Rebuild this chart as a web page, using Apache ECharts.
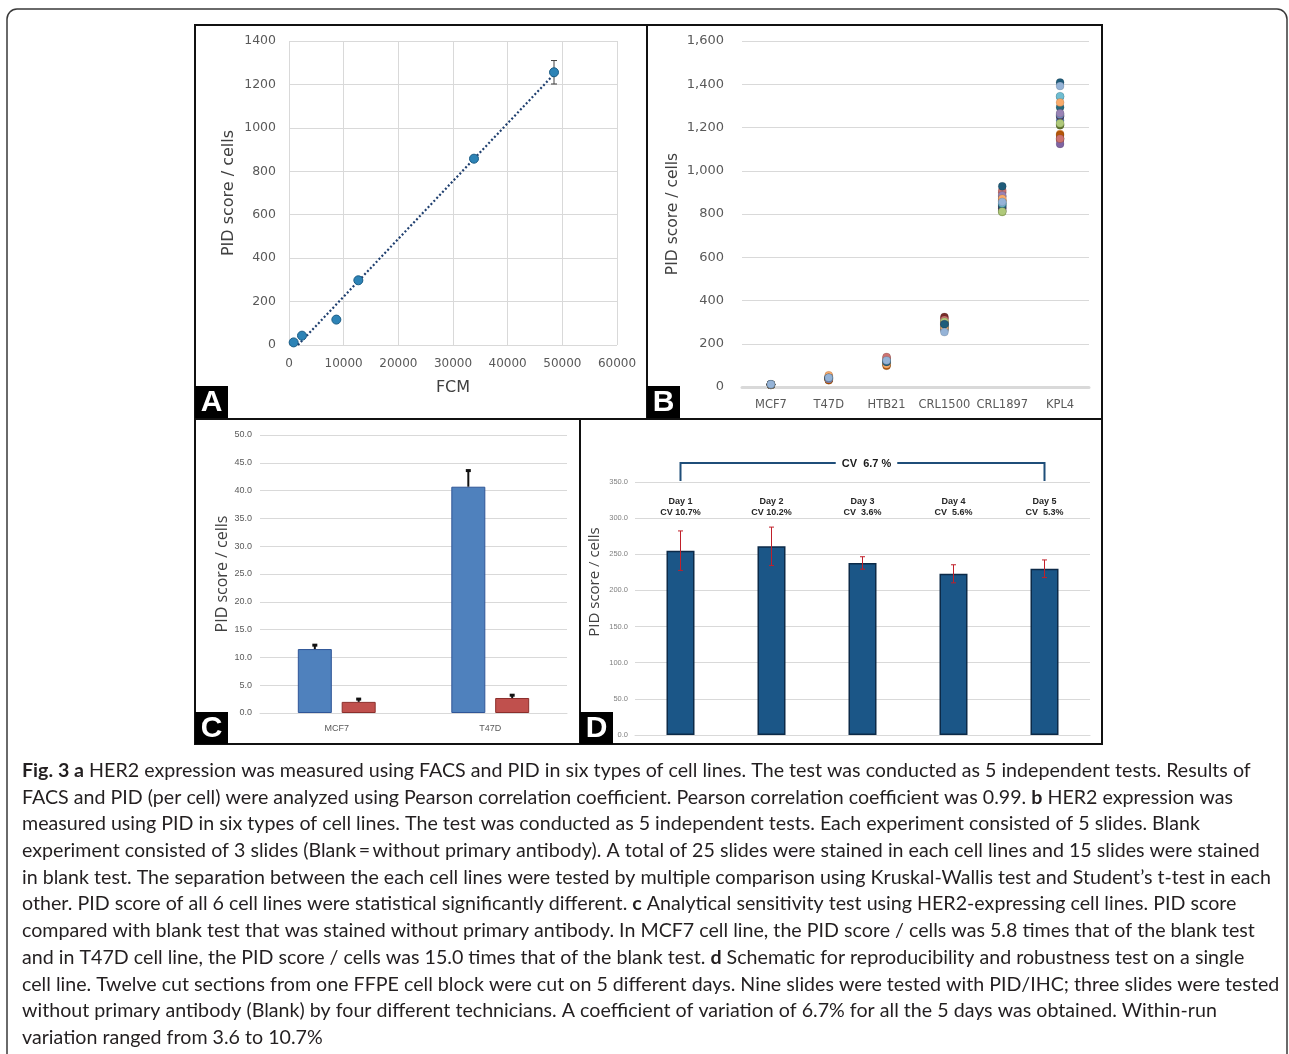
<!DOCTYPE html>
<html><head><meta charset="utf-8">
<script src="https://cdn.jsdelivr.net/npm/echarts@6/dist/echarts.min.js"></script>
<style>html,body{margin:0;padding:0;background:#fff}#c{width:1289px;height:1054px}</style>
</head><body><div id="c"></div>
<script>
// ---------- Panel A: FCM vs PID ----------
const fcmX = [854, 2378, 8659, 12683, 33841, 48476];
const pidA = [12, 43, 117, 298, 858, 1256];
const errA = [3, 8, 4, 12, 12, 54];
const xTicksA = [0, 60000, 10000];
const yTicksA = [0, 1400, 200];

// ---------- Panel B: PID per cell line (one series per slide) ----------
const cellLines = ['MCF7', 'T47D', 'HTB21', 'CRL1500', 'CRL1897', 'KPL4'];
const slideColors = ['#4F81BD','#C0504D','#9BBB59','#8064A2','#4BACC6','#F79646','#2C4D75','#772C2A','#5F7530','#4D3B62','#276A7C','#B65708','#729ACA','#CD7371','#AFC97A','#9983B5','#6FBDD1','#F9AB6B','#1F5C7A','#95B3D7'];
const slide01 = [12, 40, 115, 285, 850, 1232];
const slide02 = [11, 44, 135, 318, 900, 1143];
const slide03 = [10, 36, 108, 300, 809, 1215];
const slide04 = [11, 38, 112, 292, 825, 1124];
const slide05 = [12, 42, 118, 283, 845, 1342];
const slide06 = [11, 33, 102, 272, 865, 1170];
const slide07 = [10, 39, 110, 288, 835, 1255];
const slide08 = [12, 41, 125, 324, 880, 1150];
const slide09 = [11, 37, 106, 298, 815, 1210];
const slide10 = [10, 36, 111, 295, 828, 1252];
const slide11 = [12, 45, 113, 281, 840, 1294];
const slide12 = [10, 31, 98, 268, 862, 1165];
const slide13 = [13, 46, 120, 262, 856, 1260];
const slide14 = [12, 50, 139, 310, 909, 1148];
const slide15 = [11, 38, 110, 302, 812, 1220];
const slide16 = [11, 37, 114, 290, 886, 1266];
const slide17 = [12, 47, 120, 278, 850, 1345];
const slide18 = [10, 54, 105, 276, 871, 1316];
const slide19 = [12, 43, 116, 290, 928, 1408];
const slide20 = [13, 43, 123, 254, 856, 1392];
const slides = [slide01,slide02,slide03,slide04,slide05,slide06,slide07,slide08,slide09,slide10,slide11,slide12,slide13,slide14,slide15,slide16,slide17,slide18,slide19,slide20];
const yTicksB = [0, 1600, 200];

// ---------- Panel C: sensitivity ----------
const sensCats = ['MCF7', 'T47D'];
const pidC = [11.5, 40.7];
const pidCErr = [0.7, 2.9];
const blankC = [2.0, 2.7];
const blankCErr = [0.5, 0.5];
const yTicksC = [0, 50, 5];

// ---------- Panel D: reproducibility ----------
const days = ['Day 1', 'Day 2', 'Day 3', 'Day 4', 'Day 5'];
const dayCV = ['CV 10.7%', 'CV 10.2%', 'CV  3.6%', 'CV  5.6%', 'CV  5.3%'];
const pidD = [255, 261, 238, 223, 230];
const sdD = [27.3, 26.6, 8.6, 12.5, 12.2];
const totalCV = 'CV  6.7 %';
const yTicksD = [0, 350, 50];

// ---------- Caption ----------
const captionLines = [
  '{b|Fig. 3 a} HER2 expression was measured using FACS and PID in six types of cell lines. The test was conducted as 5 independent tests. Results of',
  'FACS and PID (per cell) were analyzed using Pearson correlation coefficient. Pearson correlation coefficient was 0.99. {b|b} HER2 expression was',
  'measured using PID in six types of cell lines. The test was conducted as 5 independent tests. Each experiment consisted of 5 slides. Blank',
  'experiment consisted of 3 slides (Blank\u2009=\u2009without primary antibody). A total of 25 slides were stained in each cell lines and 15 slides were stained',
  'in blank test. The separation between the each cell lines were tested by multiple comparison using Kruskal-Wallis test and Student\u2019s t-test in each',
  'other. PID score of all 6 cell lines were statistical significantly different. {b|c} Analytical sensitivity test using HER2-expressing cell lines. PID score',
  'compared with blank test that was stained without primary antibody. In MCF7 cell line, the PID score / cells was 5.8 times that of the blank test',
  'and in T47D cell line, the PID score / cells was 15.0 times that of the blank test. {b|d} Schematic for reproducibility and robustness test on a single',
  'cell line. Twelve cut sections from one FFPE cell block were cut on 5 different days. Nine slides were tested with PID/IHC; three slides were tested',
  'without primary antibody (Blank) by four different technicians. A coefficient of variation of 6.7% for all the 5 days was obtained. Within-run',
  'variation ranged from 3.6 to 10.7%'
];

// regression trendline for panel A (derived from the data)
const nA = fcmX.length;
const mxA = fcmX.reduce((a, b) => a + b, 0) / nA;
const myA = pidA.reduce((a, b) => a + b, 0) / nA;
let sxy = 0, sxx = 0;
for (let i = 0; i < nA; i++) { sxy += (fcmX[i] - mxA) * (pidA[i] - myA); sxx += (fcmX[i] - mxA) ** 2; }
const slopeA = sxy / sxx, icptA = myA - slopeA * mxA;
const tx0 = Math.max(Math.min(...fcmX), -icptA / slopeA), tx1 = Math.max(...fcmX);
const trendA = [[tx0, slopeA * tx0 + icptA], [tx1, slopeA * tx1 + icptA]];

function errBar(color, lw, capW, capLw, offset, upOnly) {
  return function (params, api) {
    const x = api.value(0), v = api.value(1), e = api.value(2);
    const c = api.coord([x, v]);
    const t = api.coord([x, v + e]);
    const b = upOnly ? c : api.coord([x, v - e]);
    const cx = c[0] + offset;
    const ch = [
      { type: 'line', shape: { x1: cx, y1: t[1], x2: cx, y2: b[1] }, style: { stroke: color, lineWidth: lw } },
      { type: 'line', shape: { x1: cx - capW / 2, y1: t[1], x2: cx + capW / 2, y2: t[1] }, style: { stroke: color, lineWidth: capLw } }
    ];
    if (!upOnly) ch.push({ type: 'line', shape: { x1: cx - capW / 2, y1: b[1], x2: cx + capW / 2, y2: b[1] }, style: { stroke: color, lineWidth: capLw } });
    return { type: 'group', children: ch };
  };
}

const gridGray = '#d9d9d9';
const labGray = '#595959';
const fA = 'DejaVu Sans';
const fC = 'Liberation Sans';

const barWC = 34, gapC = 0.29;
const offC = (barWC + barWC * gapC) / 2;

const series = [];
// A
series.push({ type: 'line', xAxisIndex: 0, yAxisIndex: 0, data: trendA, symbol: 'none', silent: true, z: 2,
  lineStyle: { color: '#1f3f6f', width: 2.2, type: [2, 2.2], cap: 'butt' } });
series.push({ type: 'custom', xAxisIndex: 0, yAxisIndex: 0, z: 3,
  data: fcmX.map((x, i) => [x, pidA[i], errA[i]]),
  renderItem: errBar('#404040', 1, 6, 1, 0, false) });
series.push({ type: 'scatter', xAxisIndex: 0, yAxisIndex: 0, z: 4, symbolSize: 9,
  data: fcmX.map((x, i) => [x, pidA[i]]),
  itemStyle: { color: '#2d83b6', borderColor: '#1b5d86', borderWidth: 1, opacity: 1 } });
// B
slides.forEach((vals, k) => {
  series.push({ type: 'scatter', xAxisIndex: 1, yAxisIndex: 1, symbolSize: 8, z: 3,
    data: vals,
    itemStyle: { color: slideColors[k], borderColor: 'rgba(0,0,0,0.2)', borderWidth: 0.6, opacity: 1 } });
});
// C
series.push({ type: 'bar', xAxisIndex: 2, yAxisIndex: 2, data: pidC, barWidth: barWC, barGap: (gapC * 100) + '%',
  itemStyle: { color: '#4f81bd', borderColor: '#2f5597', borderWidth: 1 } });
series.push({ type: 'bar', xAxisIndex: 2, yAxisIndex: 2, data: blankC, barWidth: barWC,
  itemStyle: { color: '#c0504d', borderColor: '#8b2e2b', borderWidth: 1 } });
series.push({ type: 'custom', xAxisIndex: 2, yAxisIndex: 2, z: 5,
  data: pidC.map((v, i) => [i, v, pidCErr[i]]), renderItem: errBar('#111', 2, 5, 3, -offC, true) });
series.push({ type: 'custom', xAxisIndex: 2, yAxisIndex: 2, z: 5,
  data: blankC.map((v, i) => [i, v, blankCErr[i]]), renderItem: errBar('#111', 2, 5, 3, offC, true) });
// D
series.push({ type: 'bar', xAxisIndex: 3, yAxisIndex: 3, data: pidD, barWidth: 28,
  itemStyle: { color: '#1b5687', borderColor: '#0c2a48', borderWidth: 1.5 } });
series.push({ type: 'custom', xAxisIndex: 3, yAxisIndex: 3, z: 5,
  data: pidD.map((v, i) => [i, v, sdD[i]]), renderItem: errBar('#c0202a', 1, 5, 1, 0, false) });
series.push({ type: 'custom', xAxisIndex: 3, yAxisIndex: 3, z: 6, clip: false,
  data: days.map((d, i) => [i, yTicksD[1]]),
  renderItem: function (params, api) {
    const i = params.dataIndex;
    const p = api.coord([api.value(0), api.value(1)]);
    return { type: 'group', children: [
      { type: 'text', x: p[0], y: p[1] + 19.5, style: { text: days[i], align: 'center', verticalAlign: 'middle', font: 'bold 9px "Liberation Sans"', fill: '#262626' } },
      { type: 'text', x: p[0], y: p[1] + 31, style: { text: dayCV[i], align: 'center', verticalAlign: 'middle', font: 'bold 9px "Liberation Sans"', fill: '#262626' } }
    ] };
  } });
series.push({ type: 'custom', xAxisIndex: 3, yAxisIndex: 3, z: 6, clip: false,
  data: [[0, yTicksD[1]]],
  renderItem: function (params, api) {
    const a = api.coord([0, yTicksD[1]]);
    const b = api.coord([days.length - 1, yTicksD[1]]);
    const top = a[1] - 19;
    const col = '#1f4e79';
    return { type: 'group', children: [
      { type: 'polyline', shape: { points: [[a[0], a[1] - 1], [a[0], top], [b[0], top], [b[0], b[1] - 1]] }, style: { stroke: col, lineWidth: 2, fill: null } },
      { type: 'text', x: (a[0] + b[0]) / 2 + 4, y: top + 1, style: { text: totalCV, align: 'center', verticalAlign: 'middle', font: 'bold 11px "Liberation Sans"', fill: '#1a1a1a', backgroundColor: '#fff', padding: [2, 6] } }
    ] };
  } });

const graphic = [];
graphic.push({ type: 'rect', shape: { x: 7, y: 9, width: 1280, height: 1100, r: 10 }, style: { fill: null, stroke: '#3a3a3a', lineWidth: 1.5 }, z: 0 });
const boxes = [[195, 25, 452, 394], [647, 25, 455, 394], [195, 419, 385, 325], [580, 419, 522, 325]];
boxes.forEach(b => graphic.push({ type: 'rect', shape: { x: b[0], y: b[1], width: b[2], height: b[3] }, style: { fill: null, stroke: '#111', lineWidth: 2 }, z: 10 }));
const letters = [['A', 195, 386], ['B', 647, 386], ['C', 195, 712], ['D', 580, 712]];
letters.forEach(l => {
  graphic.push({ type: 'rect', shape: { x: l[1], y: l[2], width: 33, height: 32 }, style: { fill: '#000' }, z: 11 });
  graphic.push({ type: 'text', x: l[1] + 16.5, y: l[2] + 17, style: { text: l[0], align: 'center', verticalAlign: 'middle', font: 'bold 30px "Liberation Sans"', fill: '#fff' }, z: 12 });
});
graphic.push({ type: 'text', x: 595, y: 582, rotation: Math.PI / 2, style: { text: 'PID score / cells', align: 'center', verticalAlign: 'middle', font: '15px "Open Sans"', fill: '#404040' } });
captionLines.forEach((t, i) => {
  graphic.push({ type: 'text', x: 22, y: 771 + i * 26.7, scaleX: 1.062, scaleY: 1, style: {
    text: t, align: 'left', verticalAlign: 'middle', font: '18.5px Lato', fill: '#231f20',
    rich: { b: { fontWeight: 'bold', fontFamily: 'Lato', fontSize: 18.5, fill: '#231f20' } } } });
});

const option = {
  animation: false,
  backgroundColor: '#fff',
  grid: [
    { left: 289, top: 41, width: 328, height: 304 },
    { left: 742, top: 41, width: 347, height: 346 },
    { left: 260, top: 435, width: 307, height: 278 },
    { left: 635, top: 482, width: 455, height: 253 }
  ],
  xAxis: [
    { gridIndex: 0, type: 'value', min: xTicksA[0], max: xTicksA[1], interval: xTicksA[2],
      name: 'FCM', nameLocation: 'middle', nameGap: 35, nameTextStyle: { fontFamily: fA, fontSize: 16, color: '#404040' },
      axisLine: { show: false }, axisTick: { show: false },
      axisLabel: { fontFamily: fA, fontSize: 12, color: labGray, margin: 13, formatter: v => String(v) },
      splitLine: { show: true, lineStyle: { color: gridGray } } },
    { gridIndex: 1, type: 'category', data: cellLines,
      axisLine: { show: true, lineStyle: { color: gridGray, width: 3 } }, axisTick: { show: false },
      axisLabel: { fontFamily: fA, fontSize: 11.5, color: labGray, margin: 12, interval: 0 } },
    { gridIndex: 2, type: 'category', data: sensCats,
      axisLine: { show: true, lineStyle: { color: gridGray } }, axisTick: { show: false },
      axisLabel: { fontFamily: fC, fontSize: 9, color: labGray, margin: 11 } },
    { gridIndex: 3, type: 'category', data: days,
      axisLine: { show: true, lineStyle: { color: gridGray } }, axisTick: { show: false },
      axisLabel: { show: false } }
  ],
  yAxis: [
    { gridIndex: 0, type: 'value', min: yTicksA[0], max: yTicksA[1], interval: yTicksA[2],
      name: 'PID score / cells', nameLocation: 'middle', nameGap: 52, nameTextStyle: { fontFamily: fA, fontSize: 16, color: '#404040' },
      axisLine: { show: false }, axisTick: { show: false },
      axisLabel: { fontFamily: fA, fontSize: 12.5, color: labGray, margin: 13, formatter: v => String(v) },
      splitLine: { show: true, lineStyle: { color: gridGray } } },
    { gridIndex: 1, type: 'value', min: yTicksB[0], max: yTicksB[1], interval: yTicksB[2],
      name: 'PID score / cells', nameLocation: 'middle', nameGap: 61, nameTextStyle: { fontFamily: fA, fontSize: 15.5, color: '#404040' },
      axisLine: { show: false }, axisTick: { show: false },
      axisLabel: { fontFamily: fA, fontSize: 13, color: labGray, margin: 18, formatter: v => v.toLocaleString('en-US') },
      splitLine: { show: true, lineStyle: { color: gridGray } } },
    { gridIndex: 2, type: 'value', min: yTicksC[0], max: yTicksC[1], interval: yTicksC[2],
      name: 'PID score / cells', nameLocation: 'middle', nameGap: 30, nameTextStyle: { fontFamily: 'Open Sans', fontSize: 16, color: '#404040' },
      axisLine: { show: false }, axisTick: { show: false },
      axisLabel: { fontFamily: fC, fontSize: 9, color: labGray, margin: 8, formatter: v => v.toFixed(1) },
      splitLine: { show: true, lineStyle: { color: gridGray } } },
    { gridIndex: 3, type: 'value', min: yTicksD[0], max: yTicksD[1], interval: yTicksD[2],
      axisLine: { show: false }, axisTick: { show: false },
      axisLabel: { fontFamily: fC, fontSize: 7.5, color: '#7f7f7f', margin: 7, formatter: v => v.toFixed(1) },
      splitLine: { show: true, lineStyle: { color: gridGray } } }
  ],
  series: series,
  graphic: graphic
};
const chart = echarts.init(document.getElementById('c'));
chart.setOption(option);
</script>
</body></html>
